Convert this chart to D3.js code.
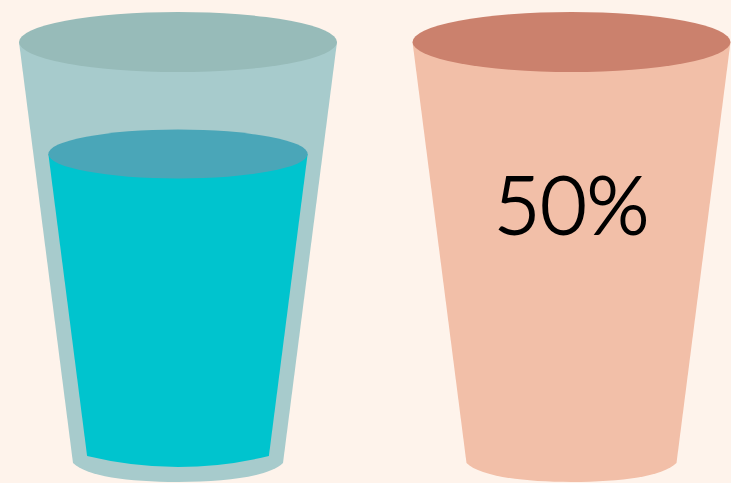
<!DOCTYPE html>
<html>
<head>
<meta charset="utf-8">
<script src="https://cdn.jsdelivr.net/npm/d3@7"></script>
<style>
  html, body { margin: 0; padding: 0; background: #fef3eb; overflow: hidden; }
  svg { display: block; }
</style>
</head>
<body>
<div id="chart"></div>
<script>
// the chart's values
const glasses = ["glass", "label"];
const fillPercent = [50, 0];
const percentLabels = ["", "50%"];

const width = 731;
const height = 483;

const svg = d3.select("#chart")
  .append("svg")
    .attr("width", width)
    .attr("height", height);

svg.append("rect")
  .attr("width", width)
  .attr("height", height)
  .attr("fill", "#fef3eb");

// glass centres, and the height of the liquid for a given percentage
const xScale = d3.scalePoint()
  .domain(glasses)
  .range([178, 571.5]);

const levelScale = d3.scaleLinear()
  .domain([0, 50])
  .range([456, 154]);

// half width of the glass at a given height
const wallScale = d3.scaleLinear()
  .domain([42, 463])
  .range([159, 105]);

const topRy = 30;
const inset = 15;

const glassPath = (cx) => {
  const p = d3.path();
  p.moveTo(cx - wallScale(42), 42);
  p.lineTo(cx + wallScale(42), 42);
  p.lineTo(cx + wallScale(463), 463);
  p.bezierCurveTo(cx + 92, 476, cx + 50, 482, cx, 482);
  p.bezierCurveTo(cx - 50, 482, cx - 92, 476, cx - wallScale(463), 463);
  p.closePath();
  return p.toString();
};

const liquidPath = (cx, percent) => {
  const top = levelScale(percent);
  const bottom = levelScale(0);
  const p = d3.path();
  p.moveTo(cx - wallScale(top) + inset, top);
  p.lineTo(cx + wallScale(top) - inset, top);
  p.lineTo(cx + wallScale(bottom) - inset, bottom);
  p.quadraticCurveTo(cx, bottom + 22, cx - wallScale(bottom) + inset, bottom);
  p.closePath();
  return p.toString();
};

// glass bodies
svg.selectAll(".body")
  .data(glasses)
  .join("path")
    .attr("class", "body")
    .attr("d", d => glassPath(xScale(d)))
    .attr("fill", (d, i) => i === 0 ? "#a7cbcc" : "#f2bfa8");

// liquid, only where the percentage is above zero
const filled = glasses
  .map((d, i) => ({name: d, percent: fillPercent[i]}))
  .filter(d => d.percent > 0);

svg.selectAll(".liquid")
  .data(filled)
  .join("path")
    .attr("class", "liquid")
    .attr("d", d => liquidPath(xScale(d.name), d.percent))
    .attr("fill", "#00c4ce");

svg.selectAll(".liquid-top")
  .data(filled)
  .join("ellipse")
    .attr("class", "liquid-top")
    .attr("cx", d => xScale(d.name))
    .attr("cy", d => levelScale(d.percent))
    .attr("rx", d => wallScale(levelScale(d.percent)) - inset)
    .attr("ry", 24.5)
    .attr("fill", "#4aa6b8");

// glass rims
svg.selectAll(".rim")
  .data(glasses)
  .join("ellipse")
    .attr("class", "rim")
    .attr("cx", d => xScale(d))
    .attr("cy", 42)
    .attr("rx", wallScale(42))
    .attr("ry", topRy)
    .attr("fill", (d, i) => i === 0 ? "#97bbb9" : "#cb816d");

// percentage label
svg.selectAll(".percent")
  .data(glasses)
  .join("text")
    .attr("class", "percent")
    .attr("x", d => xScale(d))
    .attr("y", 234)
    .attr("text-anchor", "middle")
    .attr("font-family", "Lato, 'Noto Sans', sans-serif")
    .attr("font-weight", 300)
    .attr("font-size", 80)
    .attr("fill", "#000")
    .attr("stroke", "#000")
    .attr("stroke-width", 1.8)
    .text((d, i) => percentLabels[i]);
</script>
</body>
</html>
